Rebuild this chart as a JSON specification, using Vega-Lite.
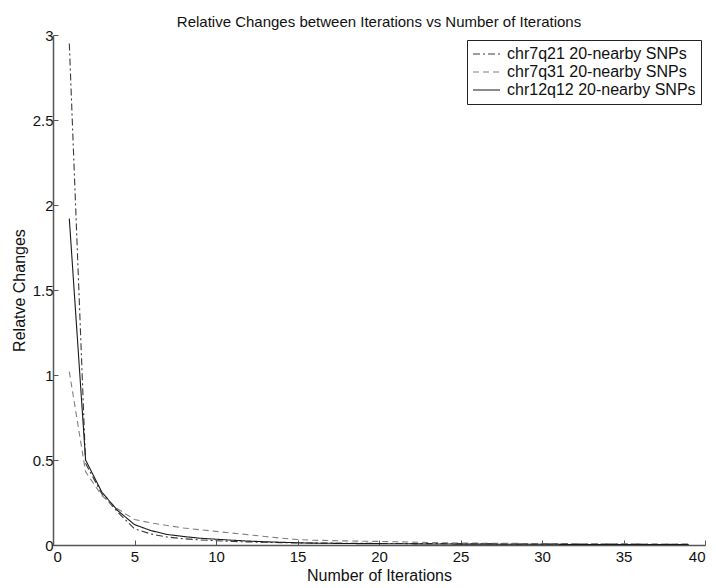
{
  "$schema": "https://vega.github.io/schema/vega-lite/v6.json",
  "width": 652,
  "height": 510,
  "autosize": "none",
  "padding": {"left": 53, "top": 35, "right": 11, "bottom": 43},
  "background": "white",
  "title": {"text": "Relative Changes between Iterations vs Number of Iterations", "font": "Liberation Sans", "fontSize": 15, "fontWeight": "normal", "color": "#111", "offset": -2, "anchor": "middle"},
  "config": {
    "view": {"stroke": null},
    "axis": {"grid": false, "domainColor": "#555", "domainWidth": 1.5, "tickColor": "#555", "tickSize": -5, "labelFont": "Liberation Sans", "labelFontSize": 15, "labelColor": "#111", "titleFont": "Liberation Sans", "titleFontSize": 16, "titleFontWeight": "normal", "titleColor": "#111"}
  },
  "data": {"values": [
    {"it":1,"s":"chr7q21 20-nearby SNPs","v":2.95},{"it":2,"s":"chr7q21 20-nearby SNPs","v":0.48},{"it":3,"s":"chr7q21 20-nearby SNPs","v":0.30},{"it":4,"s":"chr7q21 20-nearby SNPs","v":0.19},{"it":5,"s":"chr7q21 20-nearby SNPs","v":0.095},{"it":6,"s":"chr7q21 20-nearby SNPs","v":0.065},{"it":7,"s":"chr7q21 20-nearby SNPs","v":0.047},{"it":8,"s":"chr7q21 20-nearby SNPs","v":0.037},{"it":9,"s":"chr7q21 20-nearby SNPs","v":0.03},{"it":10,"s":"chr7q21 20-nearby SNPs","v":0.025},{"it":11,"s":"chr7q21 20-nearby SNPs","v":0.021},{"it":12,"s":"chr7q21 20-nearby SNPs","v":0.018},{"it":13,"s":"chr7q21 20-nearby SNPs","v":0.016},{"it":14,"s":"chr7q21 20-nearby SNPs","v":0.014},{"it":15,"s":"chr7q21 20-nearby SNPs","v":0.012},{"it":16,"s":"chr7q21 20-nearby SNPs","v":0.011},{"it":17,"s":"chr7q21 20-nearby SNPs","v":0.011},{"it":18,"s":"chr7q21 20-nearby SNPs","v":0.010},{"it":19,"s":"chr7q21 20-nearby SNPs","v":0.010},{"it":20,"s":"chr7q21 20-nearby SNPs","v":0.009},{"it":21,"s":"chr7q21 20-nearby SNPs","v":0.009},{"it":22,"s":"chr7q21 20-nearby SNPs","v":0.008},{"it":23,"s":"chr7q21 20-nearby SNPs","v":0.008},{"it":24,"s":"chr7q21 20-nearby SNPs","v":0.008},{"it":25,"s":"chr7q21 20-nearby SNPs","v":0.007},{"it":26,"s":"chr7q21 20-nearby SNPs","v":0.007},{"it":27,"s":"chr7q21 20-nearby SNPs","v":0.007},{"it":28,"s":"chr7q21 20-nearby SNPs","v":0.006},{"it":29,"s":"chr7q21 20-nearby SNPs","v":0.006},{"it":30,"s":"chr7q21 20-nearby SNPs","v":0.006},{"it":31,"s":"chr7q21 20-nearby SNPs","v":0.006},{"it":32,"s":"chr7q21 20-nearby SNPs","v":0.005},{"it":33,"s":"chr7q21 20-nearby SNPs","v":0.005},{"it":34,"s":"chr7q21 20-nearby SNPs","v":0.005},{"it":35,"s":"chr7q21 20-nearby SNPs","v":0.005},{"it":36,"s":"chr7q21 20-nearby SNPs","v":0.005},{"it":37,"s":"chr7q21 20-nearby SNPs","v":0.004},{"it":38,"s":"chr7q21 20-nearby SNPs","v":0.004},{"it":39,"s":"chr7q21 20-nearby SNPs","v":0.004},
    {"it":1,"s":"chr7q31 20-nearby SNPs","v":1.02},{"it":2,"s":"chr7q31 20-nearby SNPs","v":0.43},{"it":3,"s":"chr7q31 20-nearby SNPs","v":0.29},{"it":4,"s":"chr7q31 20-nearby SNPs","v":0.21},{"it":5,"s":"chr7q31 20-nearby SNPs","v":0.15},{"it":6,"s":"chr7q31 20-nearby SNPs","v":0.13},{"it":7,"s":"chr7q31 20-nearby SNPs","v":0.115},{"it":8,"s":"chr7q31 20-nearby SNPs","v":0.10},{"it":9,"s":"chr7q31 20-nearby SNPs","v":0.09},{"it":10,"s":"chr7q31 20-nearby SNPs","v":0.08},{"it":11,"s":"chr7q31 20-nearby SNPs","v":0.07},{"it":12,"s":"chr7q31 20-nearby SNPs","v":0.06},{"it":13,"s":"chr7q31 20-nearby SNPs","v":0.05},{"it":14,"s":"chr7q31 20-nearby SNPs","v":0.04},{"it":15,"s":"chr7q31 20-nearby SNPs","v":0.032},{"it":16,"s":"chr7q31 20-nearby SNPs","v":0.028},{"it":17,"s":"chr7q31 20-nearby SNPs","v":0.026},{"it":18,"s":"chr7q31 20-nearby SNPs","v":0.024},{"it":19,"s":"chr7q31 20-nearby SNPs","v":0.022},{"it":20,"s":"chr7q31 20-nearby SNPs","v":0.021},{"it":21,"s":"chr7q31 20-nearby SNPs","v":0.019},{"it":22,"s":"chr7q31 20-nearby SNPs","v":0.017},{"it":23,"s":"chr7q31 20-nearby SNPs","v":0.015},{"it":24,"s":"chr7q31 20-nearby SNPs","v":0.013},{"it":25,"s":"chr7q31 20-nearby SNPs","v":0.012},{"it":26,"s":"chr7q31 20-nearby SNPs","v":0.011},{"it":27,"s":"chr7q31 20-nearby SNPs","v":0.010},{"it":28,"s":"chr7q31 20-nearby SNPs","v":0.010},{"it":29,"s":"chr7q31 20-nearby SNPs","v":0.009},{"it":30,"s":"chr7q31 20-nearby SNPs","v":0.009},{"it":31,"s":"chr7q31 20-nearby SNPs","v":0.008},{"it":32,"s":"chr7q31 20-nearby SNPs","v":0.008},{"it":33,"s":"chr7q31 20-nearby SNPs","v":0.007},{"it":34,"s":"chr7q31 20-nearby SNPs","v":0.007},{"it":35,"s":"chr7q31 20-nearby SNPs","v":0.007},{"it":36,"s":"chr7q31 20-nearby SNPs","v":0.006},{"it":37,"s":"chr7q31 20-nearby SNPs","v":0.006},{"it":38,"s":"chr7q31 20-nearby SNPs","v":0.006},{"it":39,"s":"chr7q31 20-nearby SNPs","v":0.006},
    {"it":1,"s":"chr12q12 20-nearby SNPs","v":1.92},{"it":2,"s":"chr12q12 20-nearby SNPs","v":0.50},{"it":3,"s":"chr12q12 20-nearby SNPs","v":0.31},{"it":4,"s":"chr12q12 20-nearby SNPs","v":0.20},{"it":5,"s":"chr12q12 20-nearby SNPs","v":0.12},{"it":6,"s":"chr12q12 20-nearby SNPs","v":0.085},{"it":7,"s":"chr12q12 20-nearby SNPs","v":0.062},{"it":8,"s":"chr12q12 20-nearby SNPs","v":0.05},{"it":9,"s":"chr12q12 20-nearby SNPs","v":0.04},{"it":10,"s":"chr12q12 20-nearby SNPs","v":0.034},{"it":11,"s":"chr12q12 20-nearby SNPs","v":0.028},{"it":12,"s":"chr12q12 20-nearby SNPs","v":0.023},{"it":13,"s":"chr12q12 20-nearby SNPs","v":0.019},{"it":14,"s":"chr12q12 20-nearby SNPs","v":0.016},{"it":15,"s":"chr12q12 20-nearby SNPs","v":0.013},{"it":16,"s":"chr12q12 20-nearby SNPs","v":0.011},{"it":17,"s":"chr12q12 20-nearby SNPs","v":0.010},{"it":18,"s":"chr12q12 20-nearby SNPs","v":0.009},{"it":19,"s":"chr12q12 20-nearby SNPs","v":0.008},{"it":20,"s":"chr12q12 20-nearby SNPs","v":0.008},{"it":21,"s":"chr12q12 20-nearby SNPs","v":0.007},{"it":22,"s":"chr12q12 20-nearby SNPs","v":0.007},{"it":23,"s":"chr12q12 20-nearby SNPs","v":0.006},{"it":24,"s":"chr12q12 20-nearby SNPs","v":0.006},{"it":25,"s":"chr12q12 20-nearby SNPs","v":0.005},{"it":26,"s":"chr12q12 20-nearby SNPs","v":0.005},{"it":27,"s":"chr12q12 20-nearby SNPs","v":0.005},{"it":28,"s":"chr12q12 20-nearby SNPs","v":0.004},{"it":29,"s":"chr12q12 20-nearby SNPs","v":0.004},{"it":30,"s":"chr12q12 20-nearby SNPs","v":0.004},{"it":31,"s":"chr12q12 20-nearby SNPs","v":0.004},{"it":32,"s":"chr12q12 20-nearby SNPs","v":0.003},{"it":33,"s":"chr12q12 20-nearby SNPs","v":0.003},{"it":34,"s":"chr12q12 20-nearby SNPs","v":0.003},{"it":35,"s":"chr12q12 20-nearby SNPs","v":0.003},{"it":36,"s":"chr12q12 20-nearby SNPs","v":0.003},{"it":37,"s":"chr12q12 20-nearby SNPs","v":0.003},{"it":38,"s":"chr12q12 20-nearby SNPs","v":0.003},{"it":39,"s":"chr12q12 20-nearby SNPs","v":0.003}
  ]},
  "mark": {"type": "line", "strokeWidth": 1.1},
  "encoding": {
    "x": {"field": "it", "type": "quantitative", "title": "Number of Iterations", "scale": {"domain": [0, 40], "nice": false}, "axis": {"values": [0,5,10,15,20,25,30,35,40], "format": "~g", "labelPadding": 9, "titlePadding": 3}},
    "y": {"field": "v", "type": "quantitative", "title": "Relatve Changes", "scale": {"domain": [0, 3], "nice": false}, "axis": {"values": [0,0.5,1,1.5,2,2.5,3], "format": "~g", "labelPadding": 5, "titlePadding": 5}},
    "color": {"field": "s", "type": "nominal", "scale": {"domain": ["chr7q21 20-nearby SNPs", "chr7q31 20-nearby SNPs", "chr12q12 20-nearby SNPs"], "range": ["#3a3a3a", "#808080", "#1a1a1a"]}, "legend": {"title": null, "orient": "none", "legendX": 414, "legendY": 5, "strokeColor": "#222", "fillColor": "white", "padding": 5, "symbolType": "stroke", "symbolSize": 729, "symbolStrokeWidth": 1.1, "labelFont": "Liberation Sans", "labelFontSize": 16, "labelColor": "#111", "labelLimit": 0, "rowPadding": 0, "clipHeight": 18, "labelOffset": 6}},
    "strokeDash": {"field": "s", "type": "nominal", "scale": {"domain": ["chr7q21 20-nearby SNPs", "chr7q31 20-nearby SNPs", "chr12q12 20-nearby SNPs"], "range": [[7, 3, 2, 3], [6, 4], [1, 0]]}, "legend": {"title": null, "orient": "none", "legendX": 414, "legendY": 5, "strokeColor": "#222", "fillColor": "white", "padding": 5, "symbolType": "stroke", "symbolSize": 729, "symbolStrokeWidth": 1.1, "labelFont": "Liberation Sans", "labelFontSize": 16, "labelColor": "#111", "labelLimit": 0, "rowPadding": 0, "clipHeight": 18, "labelOffset": 6}}
  }
}
